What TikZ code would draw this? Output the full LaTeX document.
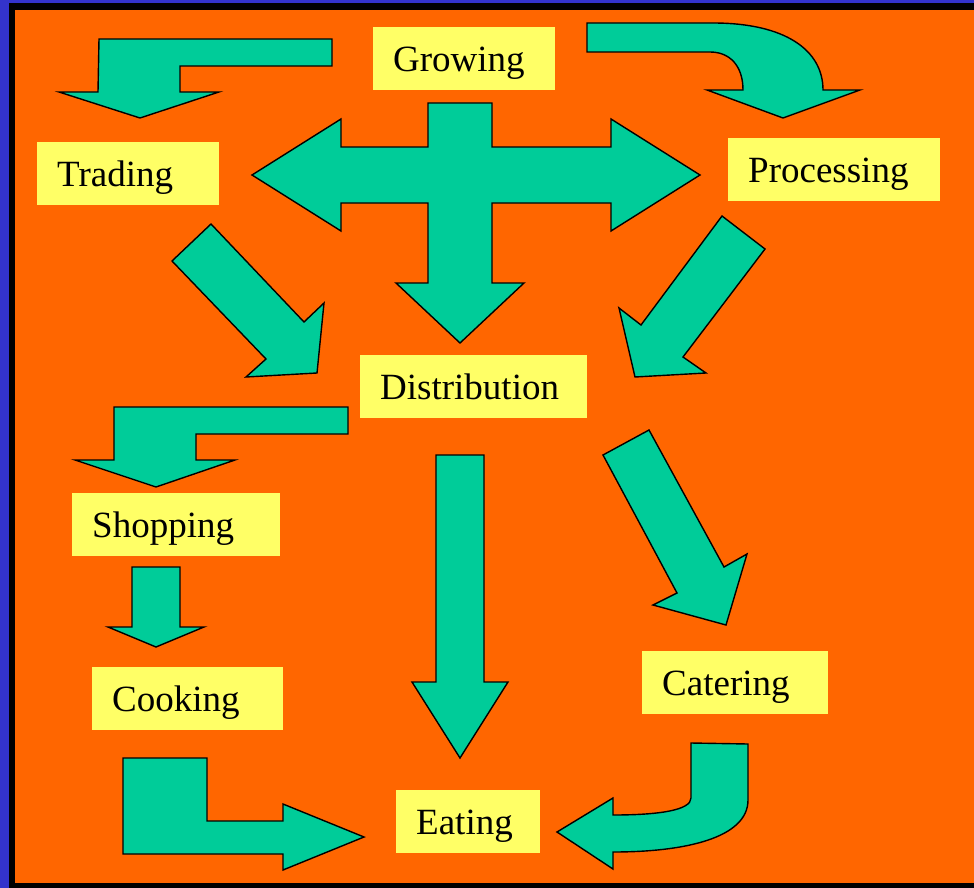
\documentclass[tikz,border=0pt]{standalone}
\usepackage{fontspec}
\setmainfont{Liberation Serif}
\usetikzlibrary{calc}

\definecolor{framblue}{HTML}{3333CC}
\definecolor{bgorange}{HTML}{FF6600}
\definecolor{arrowgreen}{HTML}{00CC99}
\definecolor{boxyellow}{HTML}{FFFF66}

\tikzset{
    blockarrow/.style = {fill=arrowgreen, draw=black, line width=1.4, line join=miter},
    stage/.style = {fill=boxyellow, anchor=north west, inner xsep=20, inner ysep=0,
        minimum height=63, text height=34, text depth=8, align=left,
        font=\fontsize{37}{40}\selectfont}
}

\begin{document}
\begin{tikzpicture}[x=1pt, y=-1pt]
            \useasboundingbox (0,0) rectangle (974,888);
            % frame and background
            \fill[framblue] (0,0) rectangle (974,888);
            \fill[black] (9,3) rectangle (974,888);
            \fill[bgorange] (15,10) rectangle (974,883);

            % stages
            \node[stage, text width=142] (growing) at (373,27) {Growing};
            \node[stage, text width=142] (trading) at (37,142) {Trading};
            \node[stage, text width=172] (processing) at (728,138) {Processing};
            \node[stage, text width=187] (distribution) at (360,355) {Distribution};
            \node[stage, text width=168] (shopping) at (72,493) {Shopping};
            \node[stage, text width=151] (cooking) at (92,667) {Cooking};
            \node[stage, text width=146] (catering) at (642,651) {Catering};
            \node[stage, text width=104] (eating) at (396,790) {Eating};

            % growing to trading
            \draw[blockarrow] (99,39) -- (332,39) -- (332,66) -- (180,66) -- (180,92)
                -- (219,92) -- (140,118) -- (59,92) -- (98,92) -- cycle;
            % growing to processing
            \draw[blockarrow] (587,23) -- (713,23) .. controls (785,23) and (823,50) .. (823,90)
                -- (860,90) -- (783,118) -- (707,90) -- (743,90)
                .. controls (743,66) and (730,52) .. (710,52) -- (587,52) -- cycle;
            % cross: trading, processing, distribution
            \draw[blockarrow] (428,103) -- (492,103) -- (492,147) -- (611,147) -- (611,119)
                -- (700,175) -- (611,231) -- (611,203) -- (492,203) -- (492,283)
                -- (524,283) -- (460,343) -- (396,283) -- (428,283) -- (428,203)
                -- (341,203) -- (341,231) -- (252,175) -- (341,119) -- (341,147)
                -- (428,147) -- cycle;
            % trading to distribution
            \draw[blockarrow] (211,224) -- (304,322) -- (324,303) -- (317,373)
                -- (246,377) -- (266,359) -- (172,261) -- cycle;
            % processing to distribution
            \draw[blockarrow] (722,216) -- (765,249) -- (683,357) -- (706,373)
                -- (635,377) -- (619,308) -- (641,325) -- cycle;
            % distribution to shopping
            \draw[blockarrow] (114,407) -- (348,407) -- (348,434) -- (196,434) -- (196,460)
                -- (235,460) -- (156,487) -- (75,460) -- (114,460) -- cycle;
            % shopping to cooking
            \draw[blockarrow] (132,567) -- (180,567) -- (180,627) -- (204,627)
                -- (156,647) -- (108,627) -- (132,627) -- cycle;
            % distribution to eating
            \draw[blockarrow] (436,455) -- (484,455) -- (484,682) -- (508,682)
                -- (460,758) -- (412,682) -- (436,682) -- cycle;
            % distribution to catering
            \draw[blockarrow] (603,455) -- (649,430) -- (724,567) -- (747,554)
                -- (726,625) -- (653,605) -- (677,593) -- cycle;
            % cooking to eating
            \draw[blockarrow] (123,758) -- (207,758) -- (207,821) -- (283,821) -- (283,804)
                -- (364,837) -- (283,870) -- (283,854) -- (123,854) -- cycle;
            % catering to eating
            \draw[blockarrow] (691,743) -- (748,744) -- (748,800)
                .. controls (748,838) and (685,852) .. (613,852) -- (613,869)
                -- (557,832) -- (613,798) -- (613,815)
                .. controls (660,815) and (691,810) .. (691,798) -- cycle;
\end{tikzpicture}
\end{document}
